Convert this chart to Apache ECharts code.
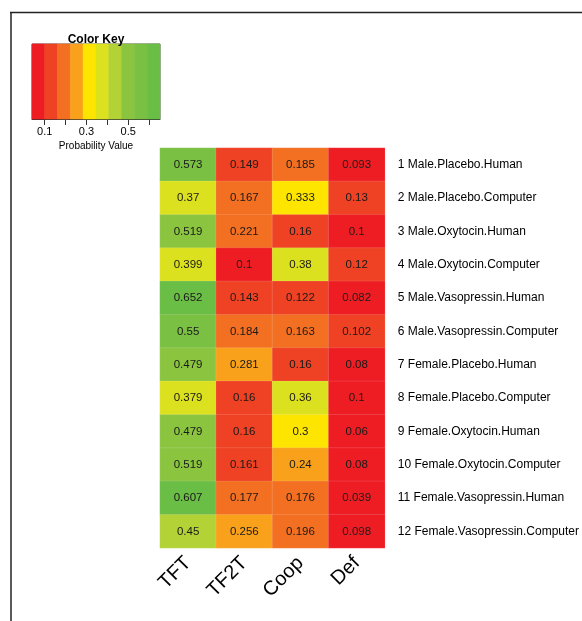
<!DOCTYPE html>
<html>
<head>
<meta charset="utf-8">
<script src="https://cdn.jsdelivr.net/npm/echarts@6/dist/echarts.min.js"></script>
<style>html,body{margin:0;padding:0;background:#fff;}#c{width:582px;height:621px;}</style>
</head>
<body>
<div id="c"></div>
<script>
var strategies = ['TFT', 'TF2T', 'Coop', 'Def'];
var groups = [
  '1 Male.Placebo.Human',
  '2 Male.Placebo.Computer',
  '3 Male.Oxytocin.Human',
  '4 Male.Oxytocin.Computer',
  '5 Male.Vasopressin.Human',
  '6 Male.Vasopressin.Computer',
  '7 Female.Placebo.Human',
  '8 Female.Placebo.Computer',
  '9 Female.Oxytocin.Human',
  '10 Female.Oxytocin.Computer',
  '11 Female.Vasopressin.Human',
  '12 Female.Vasopressin.Computer'
];
var tftValues  = [0.573, 0.37, 0.519, 0.399, 0.652, 0.55, 0.479, 0.379, 0.479, 0.519, 0.607, 0.45];
var tf2tValues = [0.149, 0.167, 0.221, 0.1, 0.143, 0.184, 0.281, 0.16, 0.16, 0.161, 0.177, 0.256];
var coopValues = [0.185, 0.333, 0.16, 0.38, 0.122, 0.163, 0.16, 0.36, 0.3, 0.24, 0.176, 0.196];
var defValues  = [0.093, 0.13, 0.1, 0.12, 0.082, 0.102, 0.08, 0.1, 0.06, 0.08, 0.039, 0.098];

var keyColors = ['#EE1D24', '#EF4123', '#F36F21', '#F9A11B', '#FDE500', '#DCE11F', '#B3D236', '#8BC53F', '#7AC143', '#6ABD45'];
var keyMin = 0.039, keyMax = 0.652;
var keyTicks = [0.1, 0.2, 0.3, 0.4, 0.5, 0.6];
var keyLabels = [0.1, 0.3, 0.5];

var step = (keyMax - keyMin) / keyColors.length;
var pieces = keyColors.map(function (c, i) {
  return { gte: keyMin + i * step, lt: keyMin + (i + 1) * step, color: c };
});
pieces[pieces.length - 1].lte = keyMax + 1; delete pieces[pieces.length - 1].lt;
pieces[0].gte = -1;
var keyData = keyColors.map(function (c, i) {
  return [keyMin + i * step, keyMin + (i + 1) * step, i];
});

var cols = [tftValues, tf2tValues, coopValues, defValues];
var heatData = [];
cols.forEach(function (arr, x) {
  arr.forEach(function (v, y) { heatData.push([x, y, v]); });
});

var chart = echarts.init(document.getElementById('c'), null, { renderer: 'canvas' });
chart.setOption({
  animation: false,
  backgroundColor: '#fff',
  textStyle: { fontFamily: 'Liberation Sans, Arial, sans-serif' },
  graphic: [
    { type: 'line', shape: { x1: 10, y1: 12.5, x2: 582, y2: 12.5 }, style: { stroke: '#222', lineWidth: 1.5 } },
    { type: 'line', shape: { x1: 11, y1: 12, x2: 11, y2: 621 }, style: { stroke: '#222', lineWidth: 1.5 } },
    { type: 'text', x: 96, y: 40, z: 10, style: { text: 'Color Key', font: 'bold 12px Liberation Sans, Arial, sans-serif', fill: '#000', align: 'center', verticalAlign: 'middle' } },
    { type: 'text', x: 96, y: 146, style: { text: 'Probability Value', font: '10px Liberation Sans, Arial, sans-serif', fill: '#000', align: 'center', verticalAlign: 'middle' } }
  ],
  visualMap: {
    type: 'piecewise', show: false, seriesIndex: 0, dimension: 2, pieces: pieces
  },
  grid: [
    { left: 160, top: 148, width: 227, height: 400, containLabel: false },
    { left: 32, top: 44, width: 128, height: 75, show: true, borderColor: '#555', borderWidth: 1, backgroundColor: 'transparent' }
  ],
  xAxis: [
    {
      gridIndex: 0, type: 'category', data: strategies,
      axisLine: { show: false }, axisTick: { show: false }, splitLine: { show: false },
      axisLabel: { rotate: 45, fontSize: 20, color: '#000', margin: 12, interval: 0 }
    },
    {
      gridIndex: 1, type: 'value', min: keyMin, max: keyMax,
      axisLine: { show: true, lineStyle: { color: '#333' } },
      splitLine: { show: false },
      axisTick: { show: true, length: 6, lineStyle: { color: '#333' }, customValues: keyTicks },
      axisLabel: { show: true, fontSize: 11, color: '#000', margin: 7, customValues: keyLabels, formatter: function (v) { return String(v); } }
    }
  ],
  yAxis: [
    {
      gridIndex: 0, type: 'category', data: groups, inverse: true, position: 'right',
      axisLine: { show: false }, axisTick: { show: false }, splitLine: { show: false },
      axisLabel: { fontSize: 12, color: '#000', margin: 13, align: 'left' }
    },
    {
      gridIndex: 1, type: 'value', min: 0, max: 1, show: false
    }
  ],
  series: [
    {
      type: 'heatmap', xAxisIndex: 0, yAxisIndex: 0, data: heatData,
      label: { show: true, fontSize: 11.5, color: '#1a1a1a', formatter: function (p) { return String(p.value[2]); } },
      itemStyle: { borderColor: 'rgba(255,255,255,0.25)', borderWidth: 0.5 },
      emphasis: { disabled: true }
    },
    {
      type: 'custom', xAxisIndex: 1, yAxisIndex: 1, data: keyData,
      renderItem: function (params, api) {
        var p0 = api.coord([api.value(0), 1]);
        var p1 = api.coord([api.value(1), 0]);
        var c = keyColors[api.value(2)];
        return {
          type: 'rect',
          shape: { x: p0[0], y: p0[1], width: p1[0] - p0[0], height: p1[1] - p0[1] },
          style: { fill: c, stroke: c, lineWidth: 0.6 }
        };
      },
      z: 1
    }
  ]
});
</script>
</body>
</html>
